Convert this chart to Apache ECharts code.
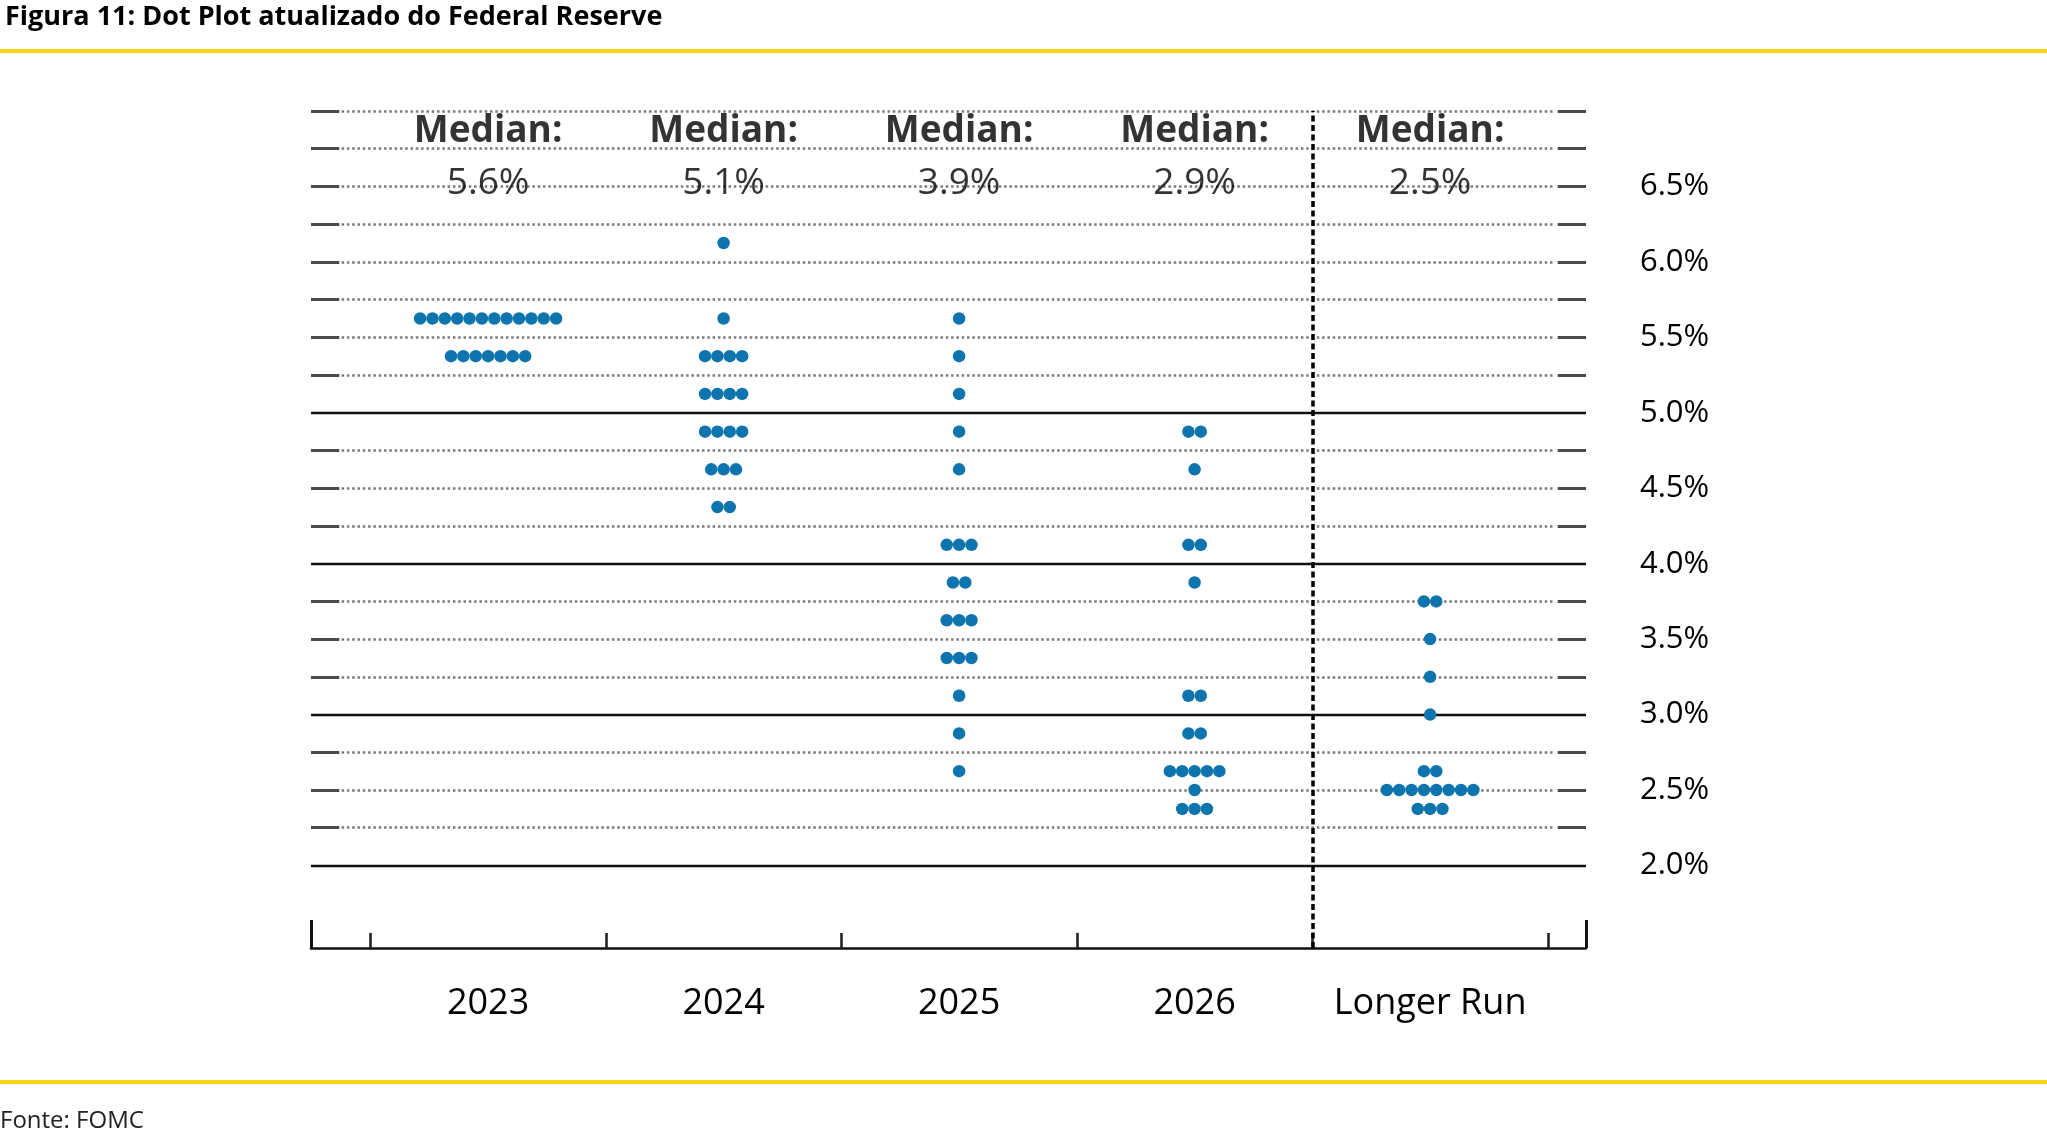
<!DOCTYPE html>
<html>
<head>
<meta charset="utf-8">
<script src="https://cdn.jsdelivr.net/npm/echarts@6/dist/echarts.min.js"></script>
<style>
html,body{margin:0;padding:0;background:#ffffff;}
#c{width:2047px;height:1139px;}
</style>
</head>
<body>
<div id="c"></div>
<script>
// ---- data ----
const categories = ['2023', '2024', '2025', '2026', 'Longer Run'];
const medians = ['5.6%', '5.1%', '3.9%', '2.9%', '2.5%'];
// [rate, number of participants]
const dots2023 = [[5.625, 12], [5.375, 7]];
const dots2024 = [[6.125, 1], [5.625, 1], [5.375, 4], [5.125, 4], [4.875, 4], [4.625, 3], [4.375, 2]];
const dots2025 = [[5.625, 1], [5.375, 1], [5.125, 1], [4.875, 1], [4.625, 1], [4.125, 3], [3.875, 2], [3.625, 3], [3.375, 3], [3.125, 1], [2.875, 1], [2.625, 1]];
const dots2026 = [[4.875, 2], [4.625, 1], [4.125, 2], [3.875, 1], [3.125, 2], [2.875, 2], [2.625, 5], [2.5, 1], [2.375, 3]];
const dotsLonger = [[3.75, 2], [3.5, 1], [3.25, 1], [3.0, 1], [2.625, 2], [2.5, 8], [2.375, 3]];
const yTickLabels = [2.0, 2.5, 3.0, 3.5, 4.0, 4.5, 5.0, 5.5, 6.0, 6.5];
const gridLevels = [2.0, 2.25, 2.5, 2.75, 3.0, 3.25, 3.5, 3.75, 4.0, 4.25, 4.5, 4.75, 5.0, 5.25, 5.5, 5.75, 6.0, 6.25, 6.5, 6.75, 7.0];
const solidLevels = [2.0, 3.0, 4.0, 5.0];
const boundaryTicks = [-0.5, 0.5, 1.5, 2.5, 3.5, 4.5];
const separatorAt = 3.5;

// ---- layout constants ----
const FONT = 'Open Sans';
const X_MIN = -0.752, X_MAX = 4.662;
const Y_MIN = 1.453, Y_MAX = 7.0;
const DOT_STEP = 0.0525;
const END_DASH = 0.12;

const dotGroups = [dots2023, dots2024, dots2025, dots2026, dotsLonger];
const dotData = [];
dotGroups.forEach((rows, ci) => {
  rows.forEach(([rate, n]) => {
    for (let j = 0; j < n; j++) dotData.push([ci + (j - (n - 1) / 2) * DOT_STEP, rate]);
  });
});

const lineMarks = [];
gridLevels.forEach(v => {
  if (solidLevels.includes(v)) {
    lineMarks.push({ yAxis: v, lineStyle: { color: '#111', width: 2.3, type: 'solid' } });
  } else {
    lineMarks.push([{ coord: [X_MIN + END_DASH + 0.01, v], lineStyle: { color: '#7a7a7a', width: 2.5, type: [2.5, 2.8] } }, { coord: [X_MAX - END_DASH - 0.01, v] }]);
    lineMarks.push([{ coord: [X_MIN, v], lineStyle: { color: '#4a4a4a', width: 3, type: 'solid' } }, { coord: [X_MIN + END_DASH, v] }]);
    lineMarks.push([{ coord: [X_MAX - END_DASH, v], lineStyle: { color: '#4a4a4a', width: 3, type: 'solid' } }, { coord: [X_MAX, v] }]);
  }
});
lineMarks.push({ xAxis: separatorAt, lineStyle: { color: '#000', width: 3.5, type: [6, 3.5] } });

const chart = echarts.init(document.getElementById('c'));
chart.setOption({
  animation: false,
  backgroundColor: '#ffffff',
  title: {
    text: 'Figura 11: Dot Plot atualizado do Federal Reserve',
    left: 0, top: -1,
    textStyle: { fontFamily: FONT, fontSize: 27, fontWeight: 'bold', color: '#000' }
  },
  graphic: [
    { type: 'rect', shape: { x: 0, y: 49, width: 2047, height: 4 }, style: { fill: '#F7D417' }, silent: true },
    { type: 'rect', shape: { x: 0, y: 1080, width: 2047, height: 4 }, style: { fill: '#F7D417' }, silent: true },
    { type: 'text', left: 0, top: 1109, style: { text: 'Fonte: FOMC', font: '24px "Open Sans"', fill: '#222' }, silent: true }
  ],
  grid: { left: 311, right: 461, top: 111, bottom: 191, containLabel: false },
  xAxis: [{
    type: 'value', min: X_MIN, max: X_MAX,
    axisLine: { show: true, lineStyle: { color: '#111', width: 2.6 } },
    axisTick: { show: true, inside: true, length: 15, lineStyle: { color: '#222', width: 2.6 }, customValues: boundaryTicks },
    axisLabel: { show: true, customValues: [0, 1, 2, 3, 4], formatter: v => categories[Math.round(v)], fontFamily: FONT, fontSize: 36, color: '#000', margin: 38 },
    splitLine: { show: false }
  }, {
    type: 'value', min: X_MIN, max: X_MAX, position: 'bottom', gridIndex: 0,
    axisLine: { show: false },
    axisTick: { show: true, inside: true, length: 28, lineStyle: { color: '#111', width: 3 }, customValues: [X_MIN, X_MAX] },
    axisLabel: { show: false },
    splitLine: { show: false }
  }],
  yAxis: {
    type: 'value', min: Y_MIN, max: Y_MAX, position: 'right',
    axisLine: { show: false }, axisTick: { show: false }, splitLine: { show: false },
    axisLabel: { show: true, customValues: yTickLabels, formatter: v => v.toFixed(1) + '%', fontFamily: FONT, fontSize: 31, color: '#000', margin: 54 }
  },
  series: [
    {
      type: 'scatter', name: 'grid', data: [], z: 1, silent: true,
      markLine: { silent: true, symbol: 'none', z: 1, label: { show: false }, animation: false, data: lineMarks }
    },
    {
      type: 'scatter', name: 'dots', data: dotData, z: 3, silent: true,
      symbol: 'circle', symbolSize: 12.5,
      itemStyle: { color: '#0E74AE', opacity: 1 }
    },
    {
      type: 'scatter', name: 'medianTitle', z: 4, silent: true, symbolSize: 0,
      data: categories.map((c, i) => [i, 6.862]),
      label: { show: true, position: 'inside', formatter: 'Median:', fontFamily: FONT, fontSize: 37, fontWeight: 'bold', color: '#000' }
    },
    {
      type: 'scatter', name: 'medianValue', z: 4, silent: true, symbolSize: 0,
      data: categories.map((c, i) => [i, 6.52]),
      label: { show: true, position: 'inside', formatter: p => medians[p.dataIndex], fontFamily: FONT, fontSize: 37, color: '#000' }
    }
  ]
});
</script>
</body>
</html>
